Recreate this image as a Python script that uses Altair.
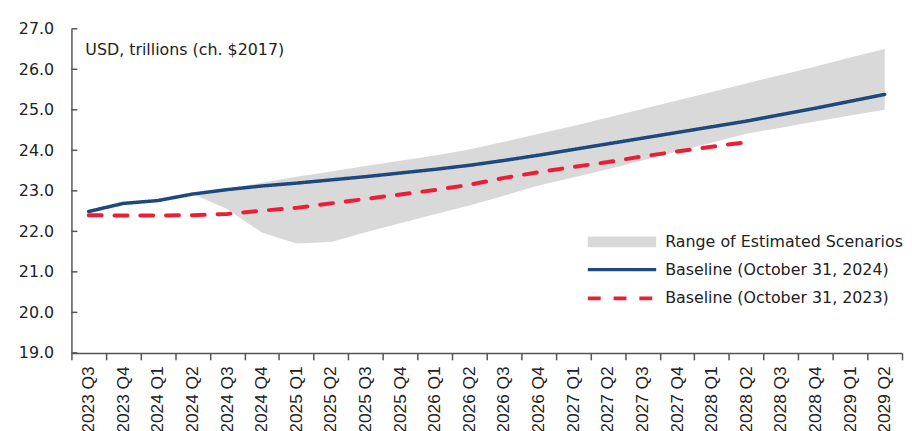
import altair as alt
import pandas as pd

quarters = ["2023 Q3", "2023 Q4", "2024 Q1", "2024 Q2", "2024 Q3", "2024 Q4",
            "2025 Q1", "2025 Q2", "2025 Q3", "2025 Q4", "2026 Q1", "2026 Q2",
            "2026 Q3", "2026 Q4", "2027 Q1", "2027 Q2", "2027 Q3", "2027 Q4",
            "2028 Q1", "2028 Q2", "2028 Q3", "2028 Q4", "2029 Q1", "2029 Q2"]

baseline_2024 = [22.49, 22.69, 22.76, 22.92, 23.03, 23.12, 23.19, 23.27, 23.35, 23.44,
                 23.53, 23.63, 23.75, 23.88, 24.02, 24.16, 24.30, 24.44, 24.58, 24.72,
                 24.88, 25.04, 25.21, 25.38]

baseline_2023 = [22.40, 22.39, 22.39, 22.40, 22.43, 22.51, 22.58, 22.69, 22.80, 22.91,
                 23.02, 23.15, 23.32, 23.46, 23.59, 23.71, 23.85, 23.97, 24.09, 24.20]

range_quarters = quarters[3:]
range_low = [22.92, 22.55, 21.97, 21.70, 21.74, 21.98, 22.20, 22.42, 22.64, 22.88,
             23.13, 23.33, 23.53, 23.75, 23.97, 24.19, 24.41, 24.56, 24.71, 24.86, 25.00]
range_high = [22.92, 23.06, 23.20, 23.35, 23.48, 23.61, 23.74, 23.87, 24.02, 24.21,
              24.41, 24.60, 24.81, 25.02, 25.23, 25.44, 25.65, 25.86, 26.07, 26.29, 26.50]

y_ticks = [19, 20, 21, 22, 23, 24, 25, 26, 27]

S_RANGE = "Range of Estimated Scenarios"
S_2024 = "Baseline (October 31, 2024)"
S_2023 = "Baseline (October 31, 2023)"
units_label = "USD, trillions (ch. $2017)"

BLUE = "#1F497D"
RED = "#EE1D36"
GREY = "#D9D9D9"
AXIS = "#555555"
TEXT = "#222222"
FONT = "DejaVu Sans"

lines_df = pd.concat([
    pd.DataFrame({"quarter": quarters, "value": baseline_2024, "series": S_2024}),
    pd.DataFrame({"quarter": quarters[:len(baseline_2023)], "value": baseline_2023, "series": S_2023}),
])
range_df = pd.DataFrame({"quarter": range_quarters, "low": range_low,
                         "high": range_high, "series": S_RANGE})
ticks_df = pd.DataFrame({"v": y_ticks})

x_scale = alt.Scale(type="band", domain=quarters, paddingInner=0, paddingOuter=0)
x_axis = alt.Axis(title=None, labelAngle=270, labelAlign="right", labelBaseline="middle",
                  labelFont="Liberation Sans", labelFontSize=17.5, labelColor=TEXT,
                  labelPadding=6, labelOverlap=False, tickBand="extent", tickSize=7,
                  tickColor=AXIS, tickWidth=1.5, domainColor=AXIS, domainWidth=1.5,
                  grid=False)
y_scale = alt.Scale(domain=[19, 27], nice=False, zero=False)
y_axis = alt.Axis(title=None, values=y_ticks, format=".1f", ticks=False, labelPadding=18,
                  labelFont=FONT, labelFontSize=16, labelColor=TEXT,
                  domainColor=AXIS, domainWidth=1.5, grid=False)


def xq():
    return alt.X("quarter:O", scale=x_scale, bandPosition=0.5, axis=x_axis)


area = alt.Chart(range_df).mark_area(opacity=1).encode(
    x=xq(),
    y=alt.Y("low:Q", scale=y_scale, axis=y_axis),
    y2="high:Q",
    fill=alt.Fill("series:N", scale=alt.Scale(domain=[S_RANGE], range=[GREY]),
                  legend=alt.Legend(title=None, orient="none", legendX=577, legendY=207,
                                    symbolType="M-12.8,-1.1H1V1.1H-12.8Z", symbolSize=100,
                                    symbolStrokeWidth=0, symbolOpacity=1,
                                    labelFont=FONT, labelFontSize=16, labelColor=TEXT,
                                    labelOffset=6, labelLimit=400, padding=0)),
)

line_legend = alt.Legend(title=None, orient="none", legendX=577, legendY=235,
                         symbolType="M-12.8,0H1", symbolSize=100, symbolStrokeWidth=3.5,
                         labelFont=FONT, labelFontSize=16, labelColor=TEXT,
                         labelOffset=6, labelLimit=400, padding=0, rowPadding=13)

lines = alt.Chart(lines_df).mark_line(strokeCap="round", strokeJoin="round").encode(
    x=xq(),
    y=alt.Y("value:Q", scale=y_scale, axis=y_axis),
    stroke=alt.Stroke("series:N", scale=alt.Scale(domain=[S_2024, S_2023], range=[BLUE, RED]),
                      legend=line_legend),
    strokeDash=alt.StrokeDash("series:N",
                              scale=alt.Scale(domain=[S_2024, S_2023], range=[[1, 0], [13, 13]]),
                              legend=line_legend),
    strokeWidth=alt.StrokeWidth("series:N",
                                scale=alt.Scale(domain=[S_2024, S_2023], range=[3.5, 4]),
                                legend=None),
)

yticks = alt.Chart(ticks_df).mark_rule(color=AXIS, strokeWidth=1.5).encode(
    y=alt.Y("v:Q", scale=y_scale, axis=y_axis),
    x=alt.value(0),
    x2=alt.value(6),
)

units = alt.Chart(alt.Data(values=[{"t": units_label}])).mark_text(
    align="left", baseline="alphabetic", font=FONT, fontSize=16, color=TEXT
).encode(text="t:N", x=alt.value(14), y=alt.value(26))

chart = alt.layer(area, yticks, lines, units).properties(
    width=838, height=327,
    autosize=alt.AutoSizeParams(type="none"),
    padding={"left": 64, "top": 19, "right": 2, "bottom": 95},
    background="white",
).configure_view(stroke=None)

chart.save("out.html", embed_options={"renderer": "svg", "actions": False})
